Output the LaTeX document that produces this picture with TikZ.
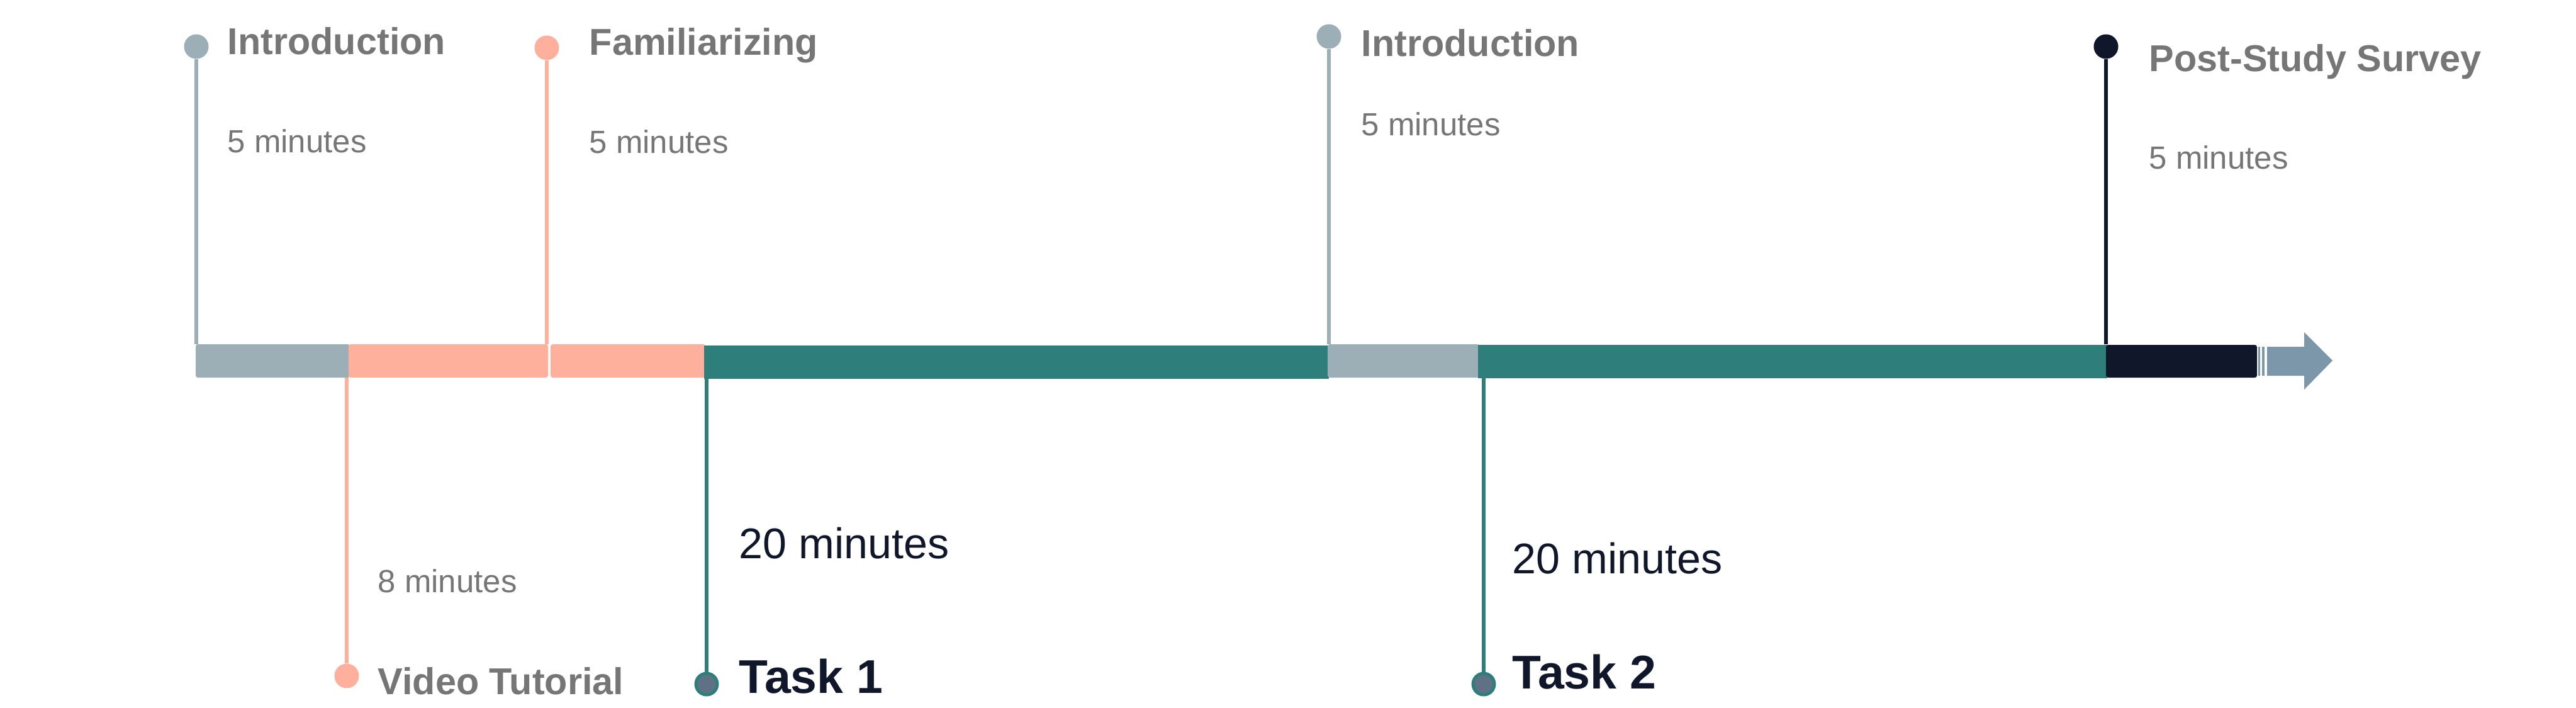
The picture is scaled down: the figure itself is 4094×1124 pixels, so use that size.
\documentclass[tikz,border=0pt]{standalone}
\usepackage{fontspec}
\setmainfont{Liberation Sans}
\definecolor{introgray}{HTML}{9CAFB7}
\definecolor{salmon}{HTML}{FFB09C}
\definecolor{tealbar}{HTML}{2E7F7C}
\definecolor{navy}{HTML}{10172A}
\definecolor{arrowgray}{HTML}{7D97AA}
\definecolor{labelgray}{HTML}{767676}
\definecolor{slate}{HTML}{5F7285}
\begin{document}
\begin{tikzpicture}[x=0.1mm,y=-0.1mm,
  dot/.style={circle,inner sep=0pt,minimum size=3.9mm},
  taskdot/.style={circle,inner sep=0pt,minimum size=3.4mm,fill=slate,draw=tealbar,line width=1.4pt},
  stem/.style={line width=1.6pt},
  head/.style={anchor=base west,inner sep=0pt,text=labelgray,font=\fontsize{16.9pt}{19pt}\selectfont\bfseries},
  dur/.style={anchor=base west,inner sep=0pt,text=labelgray,font=\fontsize{14.5pt}{17pt}\selectfont},
  taskhead/.style={anchor=base west,inner sep=0pt,text=navy,font=\fontsize{21.4pt}{24pt}\selectfont\bfseries},
  taskdur/.style={anchor=base west,inner sep=0pt,text=navy,font=\fontsize{19.4pt}{22pt}\selectfont}]
\useasboundingbox (0,0) rectangle (4094,1124);
\coordinate (bartop) at (0,547);
\coordinate (barbot) at (0,600);
\fill[introgray,rounded corners=1pt] (311,547) rectangle (556,600);
\fill[salmon,rounded corners=1pt] (554,547) rectangle (871,600);
\fill[salmon,rounded corners=1pt] (875,547) rectangle (1121,600);
\fill[tealbar] (1119,549) rectangle (2112,602);
\fill[introgray,rounded corners=1pt] (2110,547) rectangle (2351,600);
\fill[tealbar] (2349,548) rectangle (3349,601);
\fill[navy,rounded corners=1pt] (3347,548) rectangle (3587,600);
\fill[arrowgray] (3589,551) rectangle (3592,597);
\fill[arrowgray] (3595,551) rectangle (3599,597);
\fill[arrowgray] (3603,551) -- (3662,551) -- (3662,528) -- (3707,573) -- (3662,619) -- (3662,597) -- (3603,597) -- cycle;
\node[dot,fill=introgray] (intro1) at (312,74) {};
\node[dot,fill=salmon] (famil) at (869,76) {};
\node[dot,fill=salmon] (video) at (551,1074) {};
\node[taskdot] (task1) at (1123,1087) {};
\node[dot,fill=introgray] (intro2) at (2112,58) {};
\node[taskdot] (task2) at (2358,1087) {};
\node[dot,fill=navy] (post) at (3347,74) {};
\draw[stem,introgray] (intro1) -- (intro1 |- bartop);
\draw[stem,salmon] (famil) -- (famil |- bartop);
\draw[stem,salmon] (video) -- (video |- barbot);
\draw[stem,tealbar] (task1) -- (task1 |- barbot);
\draw[stem,introgray] (intro2) -- (intro2 |- bartop);
\draw[stem,tealbar] (task2) -- (task2 |- barbot);
\draw[stem,navy] (post) -- (post |- bartop);
\node[head] (intro1lbl) at (361,86) {Introduction};
\node[dur] (intro1dur) at (361,242) {5 minutes};
\node[head] (famillbl) at (936,87) {Familiarizing};
\node[dur] (famildur) at (936,243) {5 minutes};
\node[head] (videolbl) at (600,1103) {Video Tutorial};
\node[dur] (videodur) at (600,941) {8 minutes};
\node[taskhead] (task1lbl) at (1174,1101) {Task 1};
\node[taskdur] (task1dur) at (1174,887) {20 minutes};
\node[head] (intro2lbl) at (2163,89) {Introduction};
\node[dur] (intro2dur) at (2163,215) {5 minutes};
\node[taskhead] (task2lbl) at (2403,1094) {Task 2};
\node[taskdur] (task2dur) at (2403,911) {20 minutes};
\node[head] (postlbl) at (3415,113) {Post-Study Survey};
\node[dur] (postdur) at (3415,268) {5 minutes};
\end{tikzpicture}
\end{document}
